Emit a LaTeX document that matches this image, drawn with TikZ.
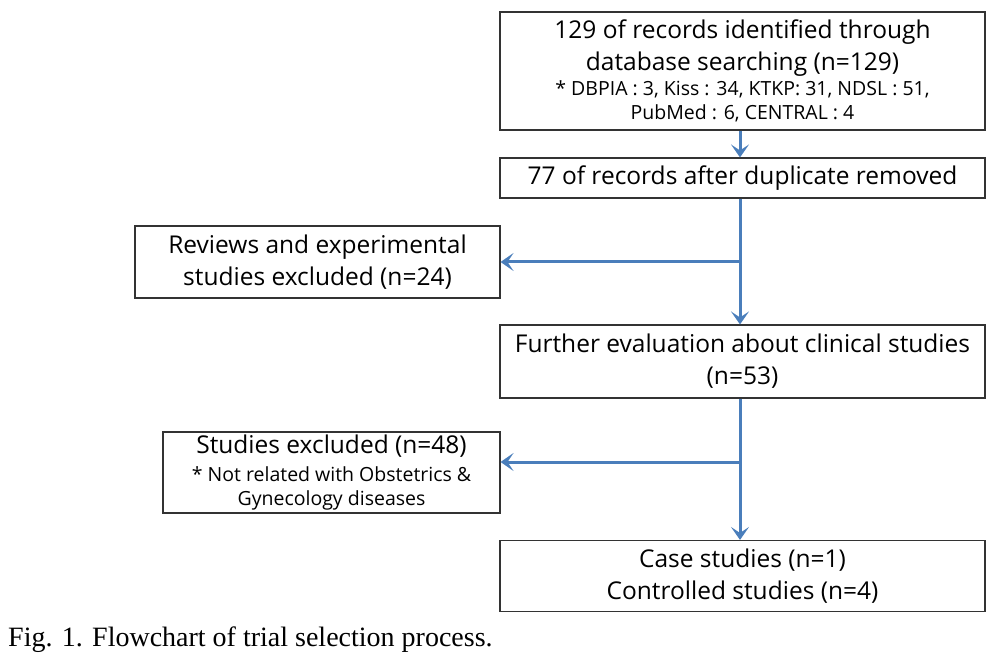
\documentclass[tikz,border=0pt]{standalone}
\usepackage{fontspec}
\setmainfont{Open Sans}
\newfontfamily\capfont{Liberation Serif}
\usetikzlibrary{arrows.meta,positioning}
\definecolor{flowblue}{RGB}{74,126,187}
\newcommand{\notefont}{\fontsize{19.5}{24}\selectfont}

\begin{document}
\begin{tikzpicture}[x=1pt, y=-1pt,
    block/.style={rectangle, draw=black!80, line width=1.1pt, align=center, inner sep=1pt, font=\fontsize{24.5}{32}\selectfont},
    arrow/.style={-{Stealth[length=13pt,width=18pt,inset=6pt]}, flowblue, line width=3pt}
]
\useasboundingbox (0,0) rectangle (1005,655);

% main column
\node[block, minimum width=485pt, minimum height=118pt] (search) at (742.5,71) {129 of records identified through\\database searching (n=129)\\[-7pt]\notefont * DBPIA : 3, Kiss : 34, KTKP: 31, NDSL : 51,\\[-8pt]\notefont PubMed : 6, CENTRAL : 4};
\node[block, minimum width=485pt, minimum height=40pt] (dedup) at (742.5,178) {77 of records after duplicate removed};
\node[block, minimum width=485pt, minimum height=73pt] (further) at (742.5,361.5) {Further evaluation about clinical studies\\(n=53)};
\node[block, minimum width=485pt, minimum height=71pt] (included) at (742.5,576) {Case studies (n=1)\\Controlled studies (n=4)};

% excluded boxes
\node[block, minimum width=365pt, minimum height=72pt] (reviews) at (317.5,262) {Reviews and experimental\\studies excluded (n=24)};
\node[block, minimum width=337pt, minimum height=81pt] (excluded) at (331.5,472.5) {Studies excluded (n=48)\\[-4pt]\notefont * Not related with Obstetrics \&\\[-8pt]\notefont Gynecology diseases};

% connectors
\coordinate (split1) at (740,262);
\coordinate (split2) at (740,462);
\draw[arrow] ([xshift=-2.5pt]search.south) -- ([xshift=-2.5pt]dedup.north);
\draw[arrow] ([xshift=-2.5pt]dedup.south) -- ([xshift=-2.5pt]further.north);
\draw[arrow] (split1) -- (reviews.east);
\draw[arrow] ([xshift=-2.5pt]further.south) -- ([xshift=-2.5pt]included.north);
\draw[arrow] (split2) -- (excluded.east |- split2);

% caption
\node[anchor=base west, inner sep=0pt, font=\capfont\fontsize{28}{32}\selectfont] (caption) at (8,646) {Fig. 1. Flowchart of trial selection process.};

\end{tikzpicture}
\end{document}
